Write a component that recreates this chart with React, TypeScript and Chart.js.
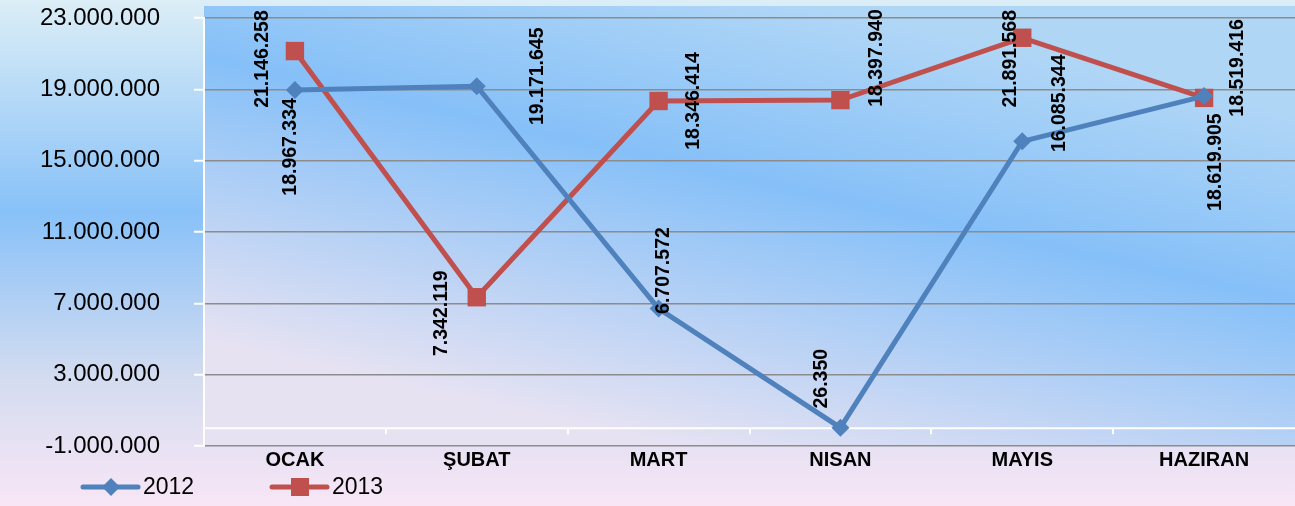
import { useEffect, useRef } from "react";
import { Chart, registerables } from "chart.js";

Chart.register(...registerables);

const months = ["OCAK", "ŞUBAT", "MART", "NISAN", "MAYIS", "HAZIRAN"];
const values2012 = [18967334, 19171645, 6707572, 26350, 16085344, 18619905];
const values2013 = [21146258, 7342119, 18346414, 18397940, 21891568, 18519416];
const seriesNames = ["2012", "2013"];

// where each value label sits relative to its point (dx, dy), in px
const labelOffsets = [
  [[-5, 57], [60, -10], [4, -38], [-20, -49], [36, -38], [11, 66]],
  [[-33, 8], [-36, 16], [34, 0], [35, -42], [-13, 21], [33, -30]],
];

const FONT = "'Liberation Sans', Arial, sans-serif";
const BLUE = "#4f81bd";
const RED = "#c0504d";

function fmt(v: number) {
  const s = Math.abs(Math.round(v)).toString().replace(/\B(?=(\d{3})+(?!\d))/g, ".");
  return v < 0 ? "-" + s : s;
}

function drawMarker(ctx: CanvasRenderingContext2D, style: string, x: number, y: number, color: string) {
  ctx.fillStyle = color;
  ctx.beginPath();
  if (style === "rectRot") {
    const r = 9;
    ctx.moveTo(x - r, y);
    ctx.lineTo(x, y - r);
    ctx.lineTo(x + r, y);
    ctx.lineTo(x, y + r);
    ctx.closePath();
  } else {
    ctx.rect(x - 9, y - 9, 18, 18);
  }
  ctx.fill();
}

const backgroundPlugin = {
  id: "bg",
  beforeDraw(chart: any) {
    const { ctx, width, height, chartArea } = chart;
    ctx.save();
    const g = ctx.createLinearGradient(0, 0, 0, height);
    g.addColorStop(0, "#dceef6");
    g.addColorStop(0.42, "#88c1f8");
    g.addColorStop(0.75, "#d4dcf0");
    g.addColorStop(1, "#f8e6f6");
    ctx.fillStyle = g;
    ctx.fillRect(0, 0, width, height);

    const { left, right, top, bottom } = chartArea;
    const cx = (left + right) / 2;
    const pg = ctx.createLinearGradient(cx + 50, top - 15, cx - 50, bottom + 5);
    pg.addColorStop(0, "#b0d6f6");
    pg.addColorStop(0.4, "#86c0f8");
    pg.addColorStop(1, "#e6e2f2");
    ctx.fillStyle = pg;
    ctx.fillRect(left, top - 12, right - left, bottom - top + 12);
    ctx.restore();
  },
};

const zeroLinePlugin = {
  id: "zeroLine",
  beforeDatasetsDraw(chart: any) {
    const { ctx, chartArea, scales } = chart;
    const y0 = scales.y.getPixelForValue(0);
    ctx.save();
    ctx.strokeStyle = "#ffffff";
    ctx.lineWidth = 2;
    ctx.beginPath();
    ctx.moveTo(chartArea.left, y0);
    ctx.lineTo(chartArea.right, y0);
    const n = months.length;
    const step = (chartArea.right - chartArea.left) / n;
    for (let i = 1; i < n; i++) {
      const x = Math.round(chartArea.left + step * i);
      ctx.moveTo(x, y0);
      ctx.lineTo(x, y0 + 6);
    }
    ctx.stroke();
    ctx.restore();
  },
};

const valueLabelPlugin = {
  id: "valueLabels",
  afterDatasetsDraw(chart: any) {
    const { ctx } = chart;
    ctx.save();
    ctx.font = `bold 19.5px ${FONT}`;
    ctx.fillStyle = "#000";
    ctx.textAlign = "center";
    ctx.textBaseline = "middle";
    chart.data.datasets.forEach((ds: any, di: number) => {
      const meta = chart.getDatasetMeta(di);
      meta.data.forEach((pt: any, i: number) => {
        const [dx, dy] = labelOffsets[di][i];
        ctx.save();
        ctx.translate(pt.x + dx, pt.y + dy);
        ctx.rotate(-Math.PI / 2);
        ctx.fillText(fmt(ds.data[i]), 0, 1);
        ctx.restore();
      });
    });
    ctx.restore();
  },
};

const legendPlugin = {
  id: "customLegend",
  afterDraw(chart: any) {
    const { ctx } = chart;
    const starts = [83, 272];
    const y = 487;
    ctx.save();
    chart.data.datasets.forEach((ds: any, i: number) => {
      const x = starts[i];
      ctx.strokeStyle = ds.borderColor;
      ctx.lineWidth = 5;
      ctx.lineCap = "round";
      ctx.beginPath();
      ctx.moveTo(x, y);
      ctx.lineTo(x + 55, y);
      ctx.stroke();
      drawMarker(ctx, ds.pointStyle, x + 28, y, ds.borderColor);
      ctx.fillStyle = "#000";
      ctx.font = `23px ${FONT}`;
      ctx.textAlign = "left";
      ctx.textBaseline = "middle";
      ctx.fillText(ds.label, x + 60, y + 1);
    });
    ctx.restore();
  },
};

export default function App() {
  const canvasRef = useRef<HTMLCanvasElement>(null);
  const chartRef = useRef<Chart | null>(null);

  useEffect(() => {
    if (!canvasRef.current) return;
    if (chartRef.current) chartRef.current.destroy();

    chartRef.current = new Chart(canvasRef.current, {
      type: "line",
      data: {
        labels: months,
        datasets: [
          {
            label: seriesNames[0],
            data: values2012,
            borderColor: BLUE,
            backgroundColor: BLUE,
            borderWidth: 5,
            pointStyle: "rectRot",
            pointRadius: 9,
            pointBorderWidth: 0,
            tension: 0,
          },
          {
            label: seriesNames[1],
            data: values2013,
            borderColor: RED,
            backgroundColor: RED,
            borderWidth: 5,
            pointStyle: "rect",
            pointRadius: 13,
            pointBorderWidth: 0,
            tension: 0,
          },
        ],
      },
      options: {
        responsive: true,
        maintainAspectRatio: false,
        animation: false,
        layout: { autoPadding: false, padding: { top: 18, right: 0, bottom: 30, left: 0 } },
        scales: {
          x: {
            offset: true,
            grid: { display: false, drawTicks: false },
            border: { display: false },
            ticks: {
              color: "#000",
              font: { family: FONT, size: 20, weight: "bold" },
              padding: 2,
              maxRotation: 0,
              autoSkip: false,
            },
            afterFit: (scale: any) => {
              scale.height = 30;
              scale.paddingLeft = 0;
              scale.paddingRight = 0;
            },
          },
          y: {
            min: -1000000,
            max: 23000000,
            grid: {
              color: "#8c8c8c",
              lineWidth: 1.5,
              tickColor: "#ffffff",
              tickLength: 10,
              tickWidth: 2,
            },
            border: { color: "#ffffff", width: 2 },
            ticks: {
              stepSize: 4000000,
              color: "#000",
              font: { family: FONT, size: 24 },
              padding: 34,
              callback: (v: any) => fmt(Number(v)),
            },
            afterFit: (scale: any) => {
              scale.width = 204;
              scale.paddingTop = 0;
              scale.paddingBottom = 0;
            },
          },
        },
        plugins: {
          legend: { display: false },
          tooltip: { enabled: false },
          title: { display: false },
        },
      },
      plugins: [backgroundPlugin, zeroLinePlugin, valueLabelPlugin, legendPlugin],
    });

    return () => {
      if (chartRef.current) {
        chartRef.current.destroy();
        chartRef.current = null;
      }
    };
  }, []);

  return (
    <div style={{ position: "fixed", left: 0, top: 0, width: 1295, height: 506 }}>
      <canvas ref={canvasRef}></canvas>
    </div>
  );
}
